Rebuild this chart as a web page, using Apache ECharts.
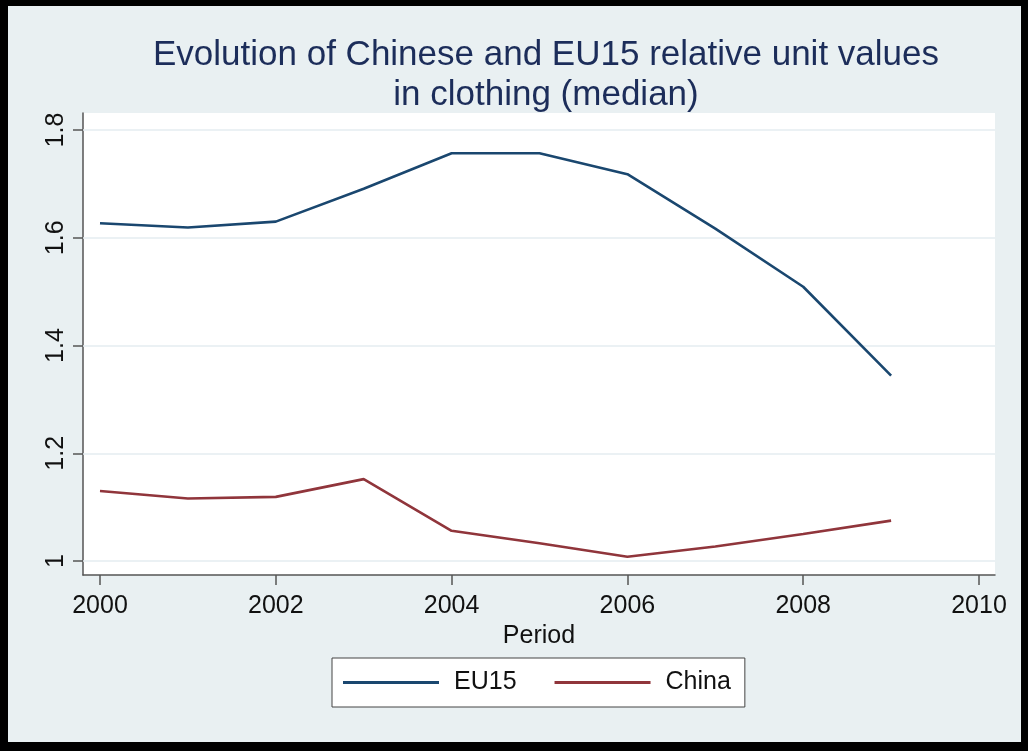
<!DOCTYPE html>
<html>
<head>
<meta charset="utf-8">
<script src="https://cdn.jsdelivr.net/npm/echarts@6/dist/echarts.min.js"></script>
<style>
  html, body { margin: 0; padding: 0; background: #000; width: 1028px; height: 751px; overflow: hidden; }
  #chart { position: absolute; left: 8px; top: 6px; width: 1013px; height: 736px; }
</style>
</head>
<body>
<div id="chart"></div>
<script>
const titleText = 'Evolution of Chinese and EU15 relative unit values\nin clothing (median)';
const years = [2000, 2001, 2002, 2003, 2004, 2005, 2006, 2007, 2008, 2009];
const eu15 = [1.627, 1.619, 1.630, 1.691, 1.757, 1.757, 1.718, 1.617, 1.509, 1.344];
const china = [1.130, 1.116, 1.119, 1.152, 1.056, 1.033, 1.008, 1.027, 1.050, 1.075];
const xTicks = [2000, 2002, 2004, 2006, 2008, 2010];
const yTicks = [1.0, 1.2, 1.4, 1.6, 1.8];
const seriesNames = ['EU15', 'China'];
const xName = 'Period';

const FONT = "'Liberation Sans', Arial, Helvetica, sans-serif";
const chart = echarts.init(document.getElementById('chart'));
chart.setOption({
  backgroundColor: '#E9F0F2',
  animation: false,
  title: {
    text: titleText,
    left: 533,
    textAlign: 'center',
    top: 24,
    textStyle: { fontFamily: FONT, fontSize: 35, fontWeight: 'normal', color: '#1C2D5A', lineHeight: 40 }
  },
  legend: {
    left: 324,
    top: 652,
    data: seriesNames,
    icon: 'rect',
    backgroundColor: '#fff',
    borderColor: '#444',
    borderWidth: 1,
    borderRadius: 0,
    padding: [12, 14, 12, 11],
    itemWidth: 96,
    itemHeight: 3,
    itemGap: 38,
    textStyle: { fontFamily: FONT, fontSize: 25, color: '#111', padding: [0, 0, 0, 10] }
  },
  grid: {
    left: 75, top: 107, width: 912, height: 462,
    show: true, backgroundColor: '#fff', borderWidth: 0
  },
  xAxis: {
    type: 'value',
    min: 1999.8066,
    max: 2010.182,
    name: xName,
    nameLocation: 'middle',
    nameGap: 47,
    nameTextStyle: { fontFamily: FONT, fontSize: 25, color: '#111' },
    axisLine: { show: true, onZero: false, lineStyle: { color: '#555', width: 1.5 } },
    axisTick: { show: true, length: 10, customValues: xTicks, lineStyle: { color: '#555', width: 1.5 } },
    axisLabel: { customValues: xTicks, margin: 19, fontFamily: FONT, fontSize: 25, color: '#111', formatter: v => String(v) },
    splitLine: { show: false }
  },
  yAxis: {
    type: 'value',
    min: 0.974,
    max: 1.8316,
    axisLine: { show: true, onZero: false, lineStyle: { color: '#555', width: 1.5 } },
    axisTick: { show: true, length: 10, customValues: yTicks, lineStyle: { color: '#555', width: 1.5 } },
    axisLabel: { customValues: yTicks, rotate: 90, margin: 14, fontFamily: FONT, fontSize: 25, color: '#111', formatter: v => String(+v.toFixed(1)) },
    splitLine: { show: false }
  },
  series: [
    {
      name: seriesNames[0],
      type: 'line',
      data: years.map((y, i) => [y, eu15[i]]),
      symbol: 'none',
      lineStyle: { color: '#1A476F', width: 2.6 },
      itemStyle: { color: '#1A476F' },
      z: 5,
      markLine: {
        silent: true,
        symbol: 'none',
        label: { show: false },
        lineStyle: { color: '#E4EDF0', width: 1.5, type: 'solid' },
        data: yTicks.map(v => ({ yAxis: v })),
        z: 1
      }
    },
    {
      name: seriesNames[1],
      type: 'line',
      data: years.map((y, i) => [y, china[i]]),
      symbol: 'none',
      lineStyle: { color: '#90353B', width: 2.6 },
      itemStyle: { color: '#90353B' },
      z: 5
    }
  ]
});
</script>
</body>
</html>
